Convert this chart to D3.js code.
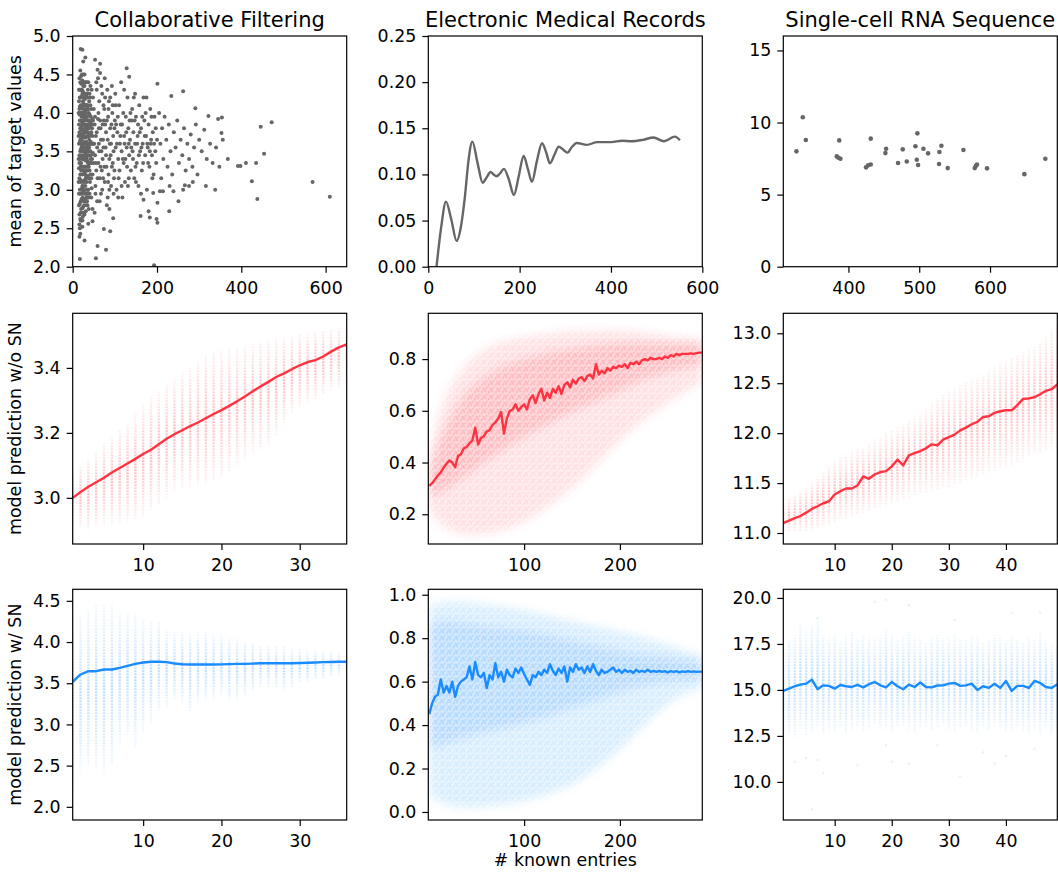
<!DOCTYPE html>
<html>
<head>
<meta charset="utf-8">
<script src="https://cdn.jsdelivr.net/npm/d3@7"></script>
<style>
  body { margin: 0; background: #fff; }
  text { font-family: "DejaVu Sans", sans-serif; }
</style>
</head>
<body>
<svg id="fig" width="1058" height="872"></svg>
<script>
// ---- labels
const titles = ['Collaborative Filtering', 'Electronic Medical Records', 'Single-cell RNA Sequence'];
const rowLabels = ['mean of target values', 'model prediction w/o SN', 'model prediction w/ SN'];
const xLabel = '# known entries';

// ---- tick labels
const xTicksTop = [0, 200, 400, 600];
const xTicksSC = [400, 500, 600];
const xTicksCF = [10, 20, 30];
const xTicksEMR = [100, 200];
const xTicksSCn = [10, 20, 30, 40];
const yTicks = [
  [2.0, 2.5, 3.0, 3.5, 4.0, 4.5, 5.0], [0, 0.05, 0.10, 0.15, 0.20, 0.25], [0, 5, 10, 15],
  [3.0, 3.2, 3.4], [0.2, 0.4, 0.6, 0.8], [11.0, 11.5, 12.0, 12.5, 13.0],
  [2.0, 2.5, 3.0, 3.5, 4.0, 4.5], [0.0, 0.2, 0.4, 0.6, 0.8, 1.0], [10.0, 12.5, 15.0, 17.5, 20.0]
];

// ---- row 1: target values
// collaborative filtering: [# known entries, mean rating]
const cfPoints = [
  [15,3.28],[16,3.45],[17,3.62],[18,3.8],[16,3.98],[15,4.15],[17,4.3],[16,4.45],[19,3.1],[18,2.95],[17,2.82],[19,2.7],
  [20,3.35],[21,3.55],[22,3.72],[20,3.9],[21,4.08],[22,4.22],[20,4.38],[23,3.2],[22,3.02],[21,2.88],[23,2.76],[24,2.65],
  [25,3.4],[26,3.6],[24,3.78],[25,3.95],[26,4.12],[24,4.28],[25,4.5],[27,3.12],[26,2.98],[28,2.85],[27,3.5],[29,3.68],
  [28,3.85],[30,4.02],[29,4.18],[28,4.35],[31,3.3],[30,3.48],[32,3.62],[31,3.82],[33,3.95],[32,4.1],[30,3.05],[33,2.9],
  [31,2.72],[34,3.38],[35,3.55],[34,3.75],[36,3.9],[35,4.05],[34,4.25],[36,3.18],[37,3.0],[35,2.8],[38,3.45],[39,3.65],
  [38,3.82],[40,3.98],[39,4.15],[37,4.4],[40,3.25],[41,3.1],[42,3.5],[43,3.72],[42,3.88],[44,4.05],[41,4.2],[44,3.35],
  [45,3.6],[46,3.8],[45,3.02],[47,3.92],[48,3.48],[19,3.52],[23,3.58],[27,3.75],[31,3.68],[35,3.45],[39,3.55],[43,3.62],
  [17,3.72],[21,3.82],[25,3.68],[29,3.92],[33,3.78],[37,3.7],[41,3.82],[18,3.35],[22,3.42],[26,3.25],[30,3.38],[34,3.52],
  [38,3.3],[42,3.4],[16,3.15],[20,3.12],[24,3.05],[28,3.22],[32,3.18],[36,3.35],[20,4.0],[24,4.05],[28,3.98],[32,4.22],
  [36,4.1],[18,4.2],[22,4.3],[26,4.4],[30,4.25],[16,2.68],[19,2.6],[22,2.95],[25,2.78],[28,2.68],[32,2.8],[35,2.95],
  [20,4.48],[23,4.42],[27,4.25],[17,4.08],[21,3.65],[25,3.85],[29,3.55],[33,3.42],[37,3.58],[23,3.88],[27,3.62],[31,3.95],
  [35,3.85],[39,3.9],[19,4.3],[15,3.6],[15,3.85],[15,2.95],[18,3.5],[29,3.3],[33,3.1],[26,3.5],[38,3.15],
  [14,3.4],[14,3.7],[14,4.0],[14,3.1],[15,4.3],[16,3.35],[16,3.75],[16,4.05],[17,3.0],[17,3.4],[17,3.9],[17,4.2],
  [18,3.2],[18,3.65],[18,4.0],[18,4.4],[19,2.85],[19,3.3],[19,3.7],[19,4.1],[20,2.75],[20,3.25],[20,3.6],[20,3.78],
  [21,3.0],[21,3.45],[21,3.95],[21,4.3],[22,3.3],[22,3.55],[22,3.85],[22,4.1],[23,3.05],[23,3.4],[23,3.7],[23,4.0],
  [23,4.25],[24,2.9],[24,3.3],[24,3.5],[24,3.9],[24,4.15],[25,3.1],[25,3.55],[25,4.2],[25,4.35],[26,2.85],[26,3.4],
  [26,3.75],[26,4.0],[27,3.0],[27,3.3],[27,3.9],[27,4.1],[28,3.1],[28,3.45],[28,3.7],[28,4.1],[29,2.95],[29,3.45],
  [29,3.8],[29,4.05],[30,3.2],[30,3.6],[30,3.9],[30,4.4],[31,3.15],[31,3.5],[31,4.1],[32,2.95],[32,3.4],[32,3.75],
  [32,4.0],[33,3.25],[33,3.6],[33,4.1],[34,3.0],[34,3.6],[34,3.95],[35,3.25],[35,3.7],[35,4.2],[36,3.0],[36,3.5],
  [36,3.75],[37,3.3],[37,3.85],[37,4.05],[38,2.9],[38,3.6],[38,4.0],[39,3.35],[39,3.8],[40,3.5],[40,3.7],[40,4.25],
  [41,3.35],[41,3.6],[42,3.2],[42,4.1],[43,3.45],[43,3.95],[44,3.75],[44,3.15],[45,3.85],[45,4.3],[46,3.4],[46,3.6],
  [47,3.2],[47,3.7],[48,3.9],[49,3.35],[49,3.6],[16,2.55],[18,2.62],[21,2.6],[15,2.8],[17,2.5],[23,2.6],[27,2.8],
  [30,2.88],[34,2.85],[40,2.95],[44,2.9],[22,4.5],[18,4.55],[28,4.5],[33,4.4],[36,4.3],[42,4.35],[26,2.7],[38,2.75],
  [50,4.05],[52,3.85],[55,3.7],[53,3.45],[56,3.25],[54,3.05],[58,2.85],[57,4.3],[60,3.92],[62,3.6],[61,3.35],[64,3.15],
  [63,4.15],[66,3.8],[68,3.5],[67,2.95],[70,4.25],[72,3.65],[71,3.4],[74,3.9],[76,3.1],[75,4.05],[78,3.55],[80,3.3],
  [79,3.75],[82,4.3],[84,3.95],[85,3.2],[83,2.9],[88,3.6],[86,4.15],[90,3.45],[92,3.85],[91,3.05],[94,4.0],[96,3.7],
  [95,3.35],[98,3.15],[100,3.9],[102,3.55],[101,4.25],[104,3.0],[106,3.75],[108,3.4],[110,4.1],[112,3.6],[111,3.25],[114,3.85],
  [116,3.5],[118,2.9],[120,4.0],[122,3.7],[121,3.35],[124,3.1],[126,3.95],[128,3.55],[130,4.2],[132,3.8],[131,3.05],[134,3.45],
  [136,3.65],[138,3.25],[140,3.9],[142,3.5],[141,4.05],[144,3.75],[146,3.15],[148,3.6],[150,3.95],[152,3.35],[154,3.7],[156,3.05],
  [158,4.1],[160,3.5],[162,3.8],[164,3.25],[166,3.6],[168,4.2],[170,3.9],[172,3.45],[174,3.7],[176,3.0],[178,3.55],[180,3.85],
  [182,3.3],[184,4.05],[186,3.65],[188,3.45],[190,3.75],[192,3.2],[194,3.95],[196,3.5],[198,3.35],[200,3.65],
  [48,4.2],[47,2.75],[52,2.7],[60,4.45],[65,4.52],[73,4.1],[81,2.8],[58,3.55],[62,3.8],[66,3.3],[70,3.0],[77,3.85],
  [87,3.0],[93,4.35],[99,3.8],[105,3.6],[115,4.4],[125,3.4],[135,3.9],[145,4.2],[155,3.85],[165,3.95],[175,4.2],[185,3.6],
  [51,3.6],[53,3.95],[55,3.35],[57,3.75],[59,3.15],[61,4.0],[63,3.5],[65,3.9],[67,3.65],[69,3.25],[71,3.85],[73,3.55],
  [75,3.3],[77,4.2],[79,3.45],[81,3.9],[83,3.65],[85,4.05],[87,3.4],[89,3.8],[91,3.6],[93,3.3],[95,4.1],[97,3.5],
  [99,3.25],[103,3.85],[107,3.95],[109,3.15],[113,3.7],[117,3.85],[119,3.4],[123,3.6],[127,3.75],[129,3.3],[133,3.6],[137,4.0],
  [139,3.55],[143,3.4],[147,3.9],[149,3.3],[153,3.6],[157,3.45],[159,3.75],[163,3.55],[167,3.35],[171,3.7],[173,4.0],[177,3.6],
  [179,3.35],[183,3.5],[187,3.95],[189,3.15],[193,3.6],[197,3.8],[54,2.95],[64,2.85],[72,3.15],[84,3.1],[97,2.95],[108,2.9],
  [116,3.05],[133,3.15],[150,3.1],[162,2.95],[56,4.4],[68,4.35],[76,4.45],[89,4.2],[102,4.1],[122,4.3],[148,4.25],
  [205,4.0],[208,3.6],[212,3.8],[215,3.4],[218,3.95],[222,3.65],[225,3.3],[228,3.85],[232,3.5],[236,3.2],[240,3.75],[244,3.55],
  [248,3.9],[252,3.35],[256,3.65],[260,3.45],[264,3.8],[268,3.25],[272,3.6],[276,3.4],[280,3.72],[284,3.3],[288,3.55],[292,3.85],
  [296,3.2],[300,3.65],[306,3.5],[312,3.78],[318,3.4],[326,3.6],[332,3.35],[340,3.55],[348,3.3],[356,3.65],[210,3.15],[230,3.05],
  [262,3.0],[285,3.1],[316,3.05],[338,3.0],
  [19,4.83],[23,4.82],[25,4.67],[30,4.72],[53,4.69],[65,4.64],[59,4.56],[128,4.58],[134,4.47],[201,4.38],[234,4.22],[262,4.28],
  [291,4.06],[322,3.96],[354,3.94],[345,3.92],[353,3.74],[368,3.40],[392,3.31],[398,3.31],[411,3.35],[425,3.11],[435,3.35],[438,2.88],
  [446,3.82],[454,3.47],[472,3.88],[569,3.10],[610,2.91],
  [17,2.10],[55,2.11],[59,2.27],[79,2.22],[89,2.46],[74,2.49],[96,2.63],[87,2.75],[16,2.39],[18,2.43],[28,2.34],[23,2.52],
  [37,2.56],[47,2.59],[193,2.02],[201,2.57],[199,2.62],[180,2.72],[168,2.87],[161,2.66],[183,2.64],[229,2.72],[251,2.85],[239,2.98],
  [207,2.98],[214,2.98],[191,2.96],[201,2.83],[266,3.06],[276,3.05]
];

// electronic medical records: mean target value curve
const emrTargetX = [18,28,38.7,50,62,72,80,88,96.4,108,119,128,136.5,143,149.6,157,165.7,176,187.6,198,208.8,218,227,238,249,
  258,266.4,276,285.4,295,304.4,315,325,347,370,400,425,445,470,493,516,540,551];
const emrTargetY = [0,0.042,0.0705,0.052,0.028,0.045,0.075,0.115,0.1355,0.112,0.091,0.097,0.1026,0.100,0.098,0.101,0.106,0.095,
  0.0777,0.098,0.120,0.106,0.092,0.115,0.1337,0.124,0.112,0.121,0.130,0.127,0.1236,0.130,0.134,0.132,0.135,0.135,0.1365,0.136,
  0.1375,0.140,0.136,0.141,0.137];

// single-cell: [# known entries, mean expression]
const scPoints = [
  [326.6,8.0],[335.5,10.36],[339.8,8.79],[383.5,7.65],[385.9,7.56],[388.7,7.49],[387,8.76],[424.9,6.89],[427.8,7.03],[431.5,7.09],
  [431.5,8.88],[452.2,7.88],[453.2,8.18],[476.7,8.14],[470.1,7.19],[482.4,7.30],[494.6,8.35],[496.5,7.42],[497.4,9.25],[498.4,7.05],
  [505.9,8.18],[512.5,7.86],[528.5,7.95],[531.3,8.39],[528,7.12],[540.2,6.84],[562.4,8.09],[578.4,6.84],[580.2,7.00],[581.6,7.09],
  [595.8,6.82],[648.5,6.42],[678.1,7.49]
];

// ---- rows 2/3: predictions per number of known entries (x = 1, 2, 3, ...)
const cfRedMean = [3.000,3.018,3.034,3.048,3.062,3.078,3.092,3.106,3.120,3.135,3.148,3.165,3.182,3.196,3.208,3.221,3.232,3.245,
  3.258,3.270,3.283,3.297,3.312,3.328,3.343,3.357,3.372,3.383,3.396,3.408,3.418,3.424,3.435,3.450,3.463,3.472];
const cfRedLo = [2.90,2.91,2.90,2.91,2.92,2.92,2.92,2.93,2.93,2.94,2.96,2.98,3.00,3.02,3.03,3.03,3.04,3.04,3.05,3.06,3.08,3.10,
  3.12,3.14,3.15,3.16,3.19,3.23,3.26,3.28,3.29,3.30,3.32,3.33,3.34,3.35];
const cfRedHi = [3.09,3.10,3.12,3.14,3.17,3.19,3.21,3.23,3.26,3.29,3.31,3.33,3.35,3.37,3.39,3.40,3.42,3.44,3.45,3.455,3.46,3.46,
  3.47,3.475,3.48,3.485,3.49,3.495,3.50,3.505,3.51,3.51,3.515,3.52,3.525,3.53];

const cfBlueMean = [3.517,3.606,3.646,3.646,3.667,3.667,3.687,3.711,3.735,3.752,3.760,3.760,3.756,3.740,3.731,3.727,3.727,3.727,
  3.727,3.729,3.732,3.735,3.735,3.738,3.743,3.743,3.742,3.742,3.743,3.745,3.748,3.752,3.756,3.758,3.760,3.760];
const cfBlueLo = [1.97,2.40,2.50,2.45,2.40,2.50,2.75,2.85,2.72,2.90,3.00,3.15,3.20,3.30,3.25,3.15,3.25,3.30,3.30,3.35,3.30,3.30,
  3.35,3.40,3.45,3.45,3.45,3.40,3.45,3.50,3.50,3.55,3.55,3.58,3.60,3.62];
const cfBlueHi = [4.52,4.32,4.38,4.47,4.47,4.47,4.35,4.35,4.35,4.28,4.25,4.25,4.15,4.12,4.12,4.10,4.13,4.13,4.10,4.10,4.05,4.05,
  4.02,4.00,3.95,3.95,3.95,3.95,3.92,3.92,3.90,3.90,3.88,3.88,3.87,3.87];

// EMR: x = 1, 4, 7, ... 286
const emrRedMean = [
  0.310,0.320,0.335,0.350,0.362,0.380,0.395,0.408,0.400,0.382,0.425,0.432,
  0.455,0.460,0.475,0.485,0.535,0.470,0.495,0.502,0.520,0.525,0.545,0.555,
  0.570,0.595,0.512,0.570,0.600,0.605,0.625,0.600,0.615,0.625,0.605,0.645,
  0.660,0.630,0.665,0.685,0.640,0.670,0.650,0.685,0.670,0.695,0.665,0.700,
  0.710,0.690,0.720,0.705,0.725,0.730,0.715,0.735,0.740,0.725,0.780,0.740,
  0.755,0.745,0.765,0.755,0.770,0.765,0.775,0.770,0.780,0.765,0.785,0.780,
  0.790,0.780,0.795,0.800,0.795,0.805,0.800,0.800,0.805,0.800,0.810,0.805,
  0.815,0.810,0.820,0.815,0.820,0.820,0.820,0.822,0.820,0.823,0.825,0.825];
const emrBlueMean = [
  0.450,0.500,0.530,0.540,0.610,0.550,0.580,0.550,0.600,0.530,0.580,0.600,
  0.610,0.620,0.670,0.610,0.690,0.630,0.620,0.640,0.570,0.630,0.610,0.685,
  0.620,0.645,0.600,0.655,0.630,0.620,0.660,0.640,0.665,0.635,0.610,0.585,
  0.630,0.620,0.645,0.630,0.655,0.640,0.680,0.650,0.630,0.660,0.640,0.670,
  0.600,0.665,0.645,0.680,0.655,0.665,0.640,0.670,0.645,0.680,0.650,0.630,
  0.655,0.640,0.645,0.655,0.665,0.645,0.655,0.640,0.655,0.645,0.650,0.640,
  0.655,0.645,0.650,0.645,0.655,0.645,0.650,0.645,0.650,0.645,0.648,0.642,
  0.648,0.645,0.648,0.643,0.647,0.645,0.648,0.645,0.647,0.645,0.646,0.646];
const emrStep = 3;

// EMR spread of individual predictions
const emrCloudX = [1, 10, 20, 35, 50, 70, 90, 110, 130, 150, 170, 190, 210, 230, 250, 270, 286];
const emrRedOuterHi = [0.42,0.58,0.68,0.76,0.82,0.86,0.88,0.89,0.90,0.91,0.91,0.91,0.91,0.90,0.89,0.88,0.88];
const emrRedOuterLo = [0.22,0.17,0.14,0.12,0.12,0.13,0.15,0.19,0.24,0.30,0.37,0.45,0.52,0.58,0.63,0.68,0.71];
const emrRedInnerHi = [0.37,0.47,0.56,0.65,0.71,0.76,0.79,0.81,0.83,0.84,0.85,0.86,0.86,0.86,0.86,0.86,0.86];
const emrRedInnerLo = [0.26,0.28,0.30,0.34,0.38,0.43,0.48,0.52,0.56,0.60,0.63,0.66,0.70,0.73,0.75,0.77,0.78];
const emrBlueOuterHi = [0.95,0.96,0.97,0.97,0.96,0.95,0.94,0.92,0.90,0.88,0.86,0.84,0.82,0.80,0.77,0.74,0.72];
const emrBlueOuterLo = [0.08,0.05,0.03,0.02,0.02,0.03,0.04,0.06,0.09,0.12,0.18,0.25,0.33,0.42,0.50,0.55,0.57];
const emrBlueInnerHi = [0.85,0.88,0.88,0.87,0.86,0.85,0.84,0.83,0.81,0.79,0.77,0.75,0.73,0.72,0.71,0.70,0.69];
const emrBlueInnerLo = [0.30,0.30,0.32,0.34,0.36,0.38,0.40,0.42,0.45,0.48,0.51,0.54,0.57,0.59,0.60,0.61,0.61];

// single-cell
const scRedMean = [11.100,11.124,11.150,11.170,11.204,11.241,11.268,11.298,11.318,11.385,11.419,11.446,11.446,11.476,11.566,
  11.543,11.586,11.610,11.620,11.667,11.734,11.677,11.777,11.800,11.821,11.848,11.888,11.878,11.935,11.961,11.985,12.028,12.055,
  12.089,12.112,12.162,12.169,12.203,12.219,12.229,12.229,12.280,12.343,12.347,12.360,12.390,12.424,12.440,12.487];
const scRedLo = [11.00,11.01,11.01,11.02,11.02,11.03,11.04,11.06,11.08,11.10,11.12,11.14,11.16,11.18,11.20,11.22,11.24,11.26,
  11.27,11.29,11.31,11.33,11.35,11.37,11.39,11.40,11.42,11.43,11.45,11.46,11.48,11.50,11.52,11.54,11.56,11.58,11.60,11.62,11.64,
  11.66,11.68,11.71,11.73,11.76,11.79,11.80,11.82,11.84,11.86];
const scRedHi = [11.32,11.35,11.38,11.42,11.46,11.52,11.57,11.62,11.68,11.73,11.76,11.78,11.81,11.84,11.86,11.89,11.93,11.96,
  12.00,12.03,12.06,12.10,12.13,12.17,12.20,12.25,12.30,12.35,12.40,12.43,12.45,12.48,12.51,12.54,12.56,12.59,12.63,12.66,12.70,
  12.73,12.76,12.79,12.82,12.85,12.87,12.92,12.98,13.04,13.10];

const scBlueMean = [14.95,15.07,15.20,15.29,15.34,15.56,15.04,15.25,15.22,15.07,15.27,15.20,15.16,15.27,15.14,15.31,15.43,15.25,
  15.14,15.43,15.20,15.04,15.29,15.16,15.40,15.16,15.14,15.24,15.25,15.34,15.38,15.22,15.25,15.34,15.00,15.20,15.11,15.34,15.11,
  15.49,14.95,15.22,15.22,15.11,15.49,15.38,15.16,15.11,15.31];
const scBlueLo = [12.2,12.6,12.4,12.8,12.5,12.7,12.9,12.6,12.8,12.7,12.9,12.6,12.8,13.0,12.7,12.9,13.1,12.8,12.9,12.7,12.9,13.0,
  12.8,12.6,12.9,13.0,12.8,12.9,13.1,12.8,12.7,12.9,13.0,12.8,12.6,12.9,12.8,13.0,12.9,12.7,12.8,12.9,12.7,12.6,12.8,12.5,12.9,
  12.6,12.8];
const scBlueHi = [17.4,17.8,18.0,18.6,18.2,18.5,18.7,18.0,17.9,18.1,17.7,18.0,18.2,17.8,18.0,17.9,17.8,17.9,18.3,18.0,17.8,17.9,
  18.2,17.9,17.8,17.6,17.9,18.0,17.8,17.9,18.1,17.8,17.7,18.0,17.9,17.6,17.8,18.0,17.9,17.7,18.0,17.8,17.6,17.9,17.8,18.2,17.7,
  17.5,17.4];
const scBlueOutliers = [[1,8.7],[6,8.5],[8,10.5],[3,11.1],[5,11.3],[7,11.2],[14,10.9],[19,12.0],[20,11.1],[23,11.0],[28,12.0],
  [32,10.3],[36,11.6],[38,11.0],[40,11.4],[45,11.8],[17,19.8],[19,19.9],[23,19.6],[41,19.2],[46,19.2],[31,18.8],[7,18.9]];

// ---- layout
const RED = '#ff3341', BLUE = '#1a8cff', GRAY = '#666666';
const colX = [72.7, 428.3, 783.3], rowY = [36, 313.3, 589.3];
const PW = 274, PH = 230.7;
const TICK_FONT = 17.4;

const panels = [
  { c: 0, r: 0, xd: [0, 650], yd: [2, 5], xt: xTicksTop, yf: '.1f' },
  { c: 1, r: 0, xd: [0, 600], yd: [0, 0.25], xt: xTicksTop, yf: '.2f' },
  { c: 2, r: 0, xd: [308, 695], yd: [0, 16], xt: xTicksSC, yf: 'd' },
  { c: 0, r: 1, xd: [1, 36], yd: [2.858, 3.568], xt: xTicksCF, yf: '.1f' },
  { c: 1, r: 1, xd: [0, 286], yd: [0.085, 0.977], xt: xTicksEMR, yf: '.1f' },
  { c: 2, r: 1, xd: [1, 49], yd: [10.89, 13.2], xt: xTicksSCn, yf: '.1f' },
  { c: 0, r: 2, xd: [1, 36], yd: [1.84, 4.64], xt: xTicksCF, yf: '.1f' },
  { c: 1, r: 2, xd: [0, 286], yd: [-0.037, 1.025], xt: xTicksEMR, yf: '.1f' },
  { c: 2, r: 2, xd: [1, 49], yd: [7.93, 20.47], xt: xTicksSCn, yf: '.1f' }
];

const svg = d3.select('#fig');
const defs = svg.append('defs');

function columnGradient(id, color, peak) {
  const g = defs.append('linearGradient').attr('id', id)
    .attr('x1', 0).attr('y1', 0).attr('x2', 0).attr('y2', 1);
  [[0, 0.05], [0.5, peak], [1, 0.05]].forEach(([o, a]) =>
    g.append('stop').attr('offset', o).attr('stop-color', color).attr('stop-opacity', a));
}
columnGradient('colRed', RED, 0.34);
columnGradient('colBlue', BLUE, 0.3);

defs.append('filter').attr('id', 'haze')
  .attr('x', '-5%').attr('y', '-5%').attr('width', '110%').attr('height', '110%')
  .append('feGaussianBlur').attr('stdDeviation', 4);

// speckle texture for the dense prediction clouds
const stip = defs.append('pattern').attr('id', 'stipple')
  .attr('patternUnits', 'userSpaceOnUse').attr('width', 7).attr('height', 7);
[[1, 1], [4.5, 2], [2.5, 4.5], [6, 5.5], [0.5, 6], [5.5, 0.2]].forEach(([cx, cy]) =>
  stip.append('circle').attr('cx', cx).attr('cy', cy).attr('r', 0.9).attr('fill', '#fff'));
const stipMask = defs.append('mask').attr('id', 'stippleMask')
  .attr('maskUnits', 'userSpaceOnUse').attr('x', 0).attr('y', 0).attr('width', PW).attr('height', PH);
stipMask.append('rect').attr('width', PW).attr('height', PH).attr('fill', '#fff').attr('fill-opacity', 0.45);
stipMask.append('rect').attr('width', PW).attr('height', PH).attr('fill', 'url(#stipple)');

// dotted look of the per-column stacks
const rows = defs.append('pattern').attr('id', 'rowDots')
  .attr('patternUnits', 'userSpaceOnUse').attr('width', 4).attr('height', 3);
rows.append('rect').attr('width', 4).attr('height', 2).attr('fill', '#fff');
defs.append('mask').attr('id', 'colMask')
  .attr('maskUnits', 'userSpaceOnUse').attr('x', 0).attr('y', 0).attr('width', PW).attr('height', PH)
  .append('rect').attr('width', PW).attr('height', PH).attr('fill', 'url(#rowDots)');

function makePanel(p, i) {
  const g = svg.append('g').attr('transform', `translate(${colX[p.c]},${rowY[p.r]})`);
  const x = d3.scaleLinear().domain(p.xd).range([0, PW]);
  const y = d3.scaleLinear().domain(p.yd).range([PH, 0]);

  defs.append('clipPath').attr('id', 'clip' + i)
    .append('rect').attr('width', PW).attr('height', PH);
  const plot = g.append('g').attr('clip-path', `url(#clip${i})`);

  const ax = g.append('g').attr('transform', `translate(0,${PH})`)
    .call(d3.axisBottom(x).tickValues(p.xt).tickSize(6).tickPadding(9).tickFormat(d3.format('d')));
  const ay = g.append('g')
    .call(d3.axisLeft(y).tickValues(yTicks[i]).tickSize(6).tickPadding(6).tickFormat(d3.format(p.yf)));
  [ax, ay].forEach(a => {
    a.attr('font-size', TICK_FONT).attr('font-family', '"DejaVu Sans", sans-serif');
    a.select('.domain').remove();
    a.selectAll('line').attr('stroke', '#000').attr('stroke-width', 1.2);
    a.selectAll('text').attr('fill', '#000');
  });

  // frame goes on top of the marks
  const frame = () => g.append('rect').attr('width', PW).attr('height', PH)
    .attr('fill', 'none').attr('stroke', '#000').attr('stroke-width', 1.2);
  return { g, plot, x, y, frame };
}

const P = panels.map(makePanel);

// ---- row 1
(function () {
  const { plot, x, y } = P[0];
  plot.selectAll('circle').data(cfPoints).join('circle')
    .attr('cx', d => x(d[0])).attr('cy', d => y(d[1])).attr('r', 2).attr('fill', GRAY);
})();

(function () {
  const { plot, x, y } = P[1];
  const line = d3.line().x(d => x(d[0])).y(d => y(d[1])).curve(d3.curveMonotoneX);
  plot.append('path').datum(d3.zip(emrTargetX, emrTargetY))
    .attr('d', line).attr('fill', 'none').attr('stroke', GRAY).attr('stroke-width', 2.4);
})();

(function () {
  const { plot, x, y } = P[2];
  plot.selectAll('circle').data(scPoints).join('circle')
    .attr('cx', d => x(d[0])).attr('cy', d => y(d[1])).attr('r', 2.3).attr('fill', GRAY);
})();

// ---- column clouds + mean line (CF and single-cell)
function columnPanel(panel, lo, hi, mean, color, gradId) {
  const { plot, x, y } = panel;
  plot.append('g').attr('mask', 'url(#colMask)')
    .selectAll('rect').data(lo.map((l, i) => ({ k: i + 1, lo: l, hi: hi[i] })))
    .join('rect')
    .attr('x', d => x(d.k) - 1.2).attr('width', 2.4)
    .attr('y', d => y(d.hi)).attr('height', d => y(d.lo) - y(d.hi))
    .attr('fill', `url(#${gradId})`);
  const line = d3.line().x((d, i) => x(i + 1)).y(d => y(d));
  plot.append('path').datum(mean).attr('d', line)
    .attr('fill', 'none').attr('stroke', color).attr('stroke-width', 2.4).attr('stroke-linejoin', 'round');
}
columnPanel(P[3], cfRedLo, cfRedHi, cfRedMean, RED, 'colRed');
columnPanel(P[6], cfBlueLo, cfBlueHi, cfBlueMean, BLUE, 'colBlue');
columnPanel(P[5], scRedLo, scRedHi, scRedMean, RED, 'colRed');
(function () {
  const { plot, x, y } = P[8];
  plot.selectAll('circle').data(scBlueOutliers).join('circle')
    .attr('cx', d => x(d[0])).attr('cy', d => y(d[1])).attr('r', 1.2)
    .attr('fill', BLUE).attr('fill-opacity', 0.12);
})();
columnPanel(P[8], scBlueLo, scBlueHi, scBlueMean, BLUE, 'colBlue');

// ---- EMR haze + mean line
function emrPanel(panel, outerLo, outerHi, innerLo, innerHi, mean, color) {
  const { plot, x, y } = panel;
  const haze = plot.append('g').attr('mask', 'url(#stippleMask)')
    .append('g').attr('filter', 'url(#haze)');
  const area = (lo, hi) => d3.area().curve(d3.curveBasis)
    .x((d, i) => x(emrCloudX[i])).y0((d, i) => y(lo[i])).y1((d, i) => y(hi[i]));
  haze.append('path').datum(emrCloudX).attr('d', area(outerLo, outerHi))
    .attr('fill', color).attr('fill-opacity', 0.2);
  haze.append('path').datum(emrCloudX).attr('d', area(innerLo, innerHi))
    .attr('fill', color).attr('fill-opacity', 0.26);
  const line = d3.line().x((d, i) => x(1 + i * emrStep)).y(d => y(d));
  plot.append('path').datum(mean).attr('d', line)
    .attr('fill', 'none').attr('stroke', color).attr('stroke-width', 2.4).attr('stroke-linejoin', 'round');
}
emrPanel(P[4], emrRedOuterLo, emrRedOuterHi, emrRedInnerLo, emrRedInnerHi, emrRedMean, RED);
emrPanel(P[7], emrBlueOuterLo, emrBlueOuterHi, emrBlueInnerLo, emrBlueInnerHi, emrBlueMean, BLUE);

P.forEach(p => p.frame());

// ---- titles and axis labels
svg.selectAll('text.title').data(titles).join('text').attr('class', 'title')
  .attr('x', (d, i) => colX[i] + PW / 2).attr('y', 27)
  .attr('text-anchor', 'middle').attr('font-size', 21).text(d => d);

svg.selectAll('text.ylab').data(rowLabels).join('text').attr('class', 'ylab')
  .attr('transform', (d, i) => `translate(21,${rowY[i] + PH / 2}) rotate(-90)`)
  .attr('text-anchor', 'middle').attr('font-size', TICK_FONT).text(d => d);

svg.append('text').attr('x', colX[1] + PW / 2).attr('y', 866)
  .attr('text-anchor', 'middle').attr('font-size', TICK_FONT).text(xLabel);
</script>
</body>
</html>
